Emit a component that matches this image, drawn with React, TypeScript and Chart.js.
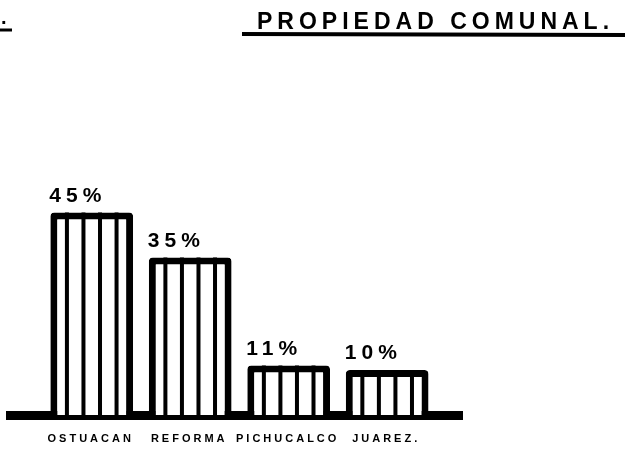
import React, { useEffect, useRef } from 'react';
import { Chart, registerables } from 'chart.js';

Chart.register(...registerables);

const categories = ['OSTUACAN', 'REFORMA', 'PICHUCALCO', 'JUAREZ.'];
const values = [45, 35, 11, 10];
const valueLabels = ['45%', '35%', '11%', '10%'];
const titleText = 'PROPIEDAD COMUNAL.';

const FONT = '"Liberation Sans", Arial, Helvetica, sans-serif';

const decorPlugin = {
  id: 'decor',
  afterDatasetsDraw(chart: any) {
    const ctx: CanvasRenderingContext2D = chart.ctx;
    const meta = chart.getDatasetMeta(0);
    const xScale = chart.scales.x;
    ctx.save();
    ctx.fillStyle = '#000';

    // vertical stripes inside the bars + value labels
    meta.data.forEach((bar: any, i: number) => {
      const { x, y, base, width } = bar.getProps(['x', 'y', 'base', 'width'], true);
      const left = x - width / 2;
      for (let k = 1; k < 5; k++) {
        const lx = left + (width * k) / 5;
        ctx.fillRect(lx - 2, y, 4, base - y);
      }
      ctx.font = `bold 21px ${FONT}`;
      (ctx as any).letterSpacing = '5px';
      ctx.textAlign = 'left';
      ctx.textBaseline = 'alphabetic';
      ctx.fillText(valueLabels[i], left - 1, y - 11);
    });

    // category labels
    ctx.font = `bold 11px ${FONT}`;
    (ctx as any).letterSpacing = '3px';
    ctx.textAlign = 'center';
    categories.forEach((c, i) => {
      const px = xScale.getPixelForValue(i);
      ctx.fillText(c, px - 1, 442);
    });

    // title
    ctx.font = `bold 23px ${FONT}`;
    (ctx as any).letterSpacing = '5px';
    ctx.textAlign = 'left';
    ctx.fillText(titleText, 257, 29);
    ctx.lineWidth = 4;
    ctx.strokeStyle = '#000';
    ctx.beginPath();
    ctx.moveTo(242, 34);
    ctx.lineTo(625, 35);
    ctx.stroke();

    // fragment at top-left
    ctx.font = `bold 20px ${FONT}`;
    (ctx as any).letterSpacing = '0px';
    ctx.fillText('.', 1, 24);
    ctx.lineWidth = 3;
    ctx.beginPath();
    ctx.moveTo(0, 30);
    ctx.lineTo(12, 30);
    ctx.stroke();

    ctx.restore();
  },
};

export default function App() {
  const ref = useRef<HTMLCanvasElement | null>(null);

  useEffect(() => {
    if (!ref.current) return;
    const chart = new Chart(ref.current, {
      type: 'bar',
      data: {
        datasets: [
          {
            data: values.map((v, i) => ({ x: i, y: v })),
            backgroundColor: '#fff',
            borderColor: '#000',
            borderWidth: 7,
            borderRadius: 4,
            borderSkipped: 'start',
            categoryPercentage: 1,
            barPercentage: 0.84,
          },
        ],
      },
      options: {
        animation: false,
        responsive: true,
        maintainAspectRatio: false,
        layout: { padding: { left: 10, right: 163, top: 55, bottom: 34 } },
        plugins: {
          legend: { display: false },
          title: { display: false },
          tooltip: { enabled: false },
        },
        scales: {
          x: {
            type: 'linear',
            min: -0.83,
            max: 3.76,
            offset: false,
            grid: { display: false },
            ticks: { display: false },
            border: { display: true, color: '#000', width: 9 },
            afterBuildTicks: (axis: any) => {
              axis.ticks = categories.map((_, i) => ({ value: i }));
            },
            afterFit: (s: any) => {
              s.height = 0;
            },
          },
          y: {
            display: false,
            min: 0,
            max: 80,
          },
        },
      },
      plugins: [decorPlugin],
    });
    return () => chart.destroy();
  }, []);

  return (
    <div
      style={{
        position: 'fixed',
        left: 0,
        top: 0,
        width: 625,
        height: 449,
        background: '#fff',
      }}
    >
      <canvas ref={ref} />
    </div>
  );
}
